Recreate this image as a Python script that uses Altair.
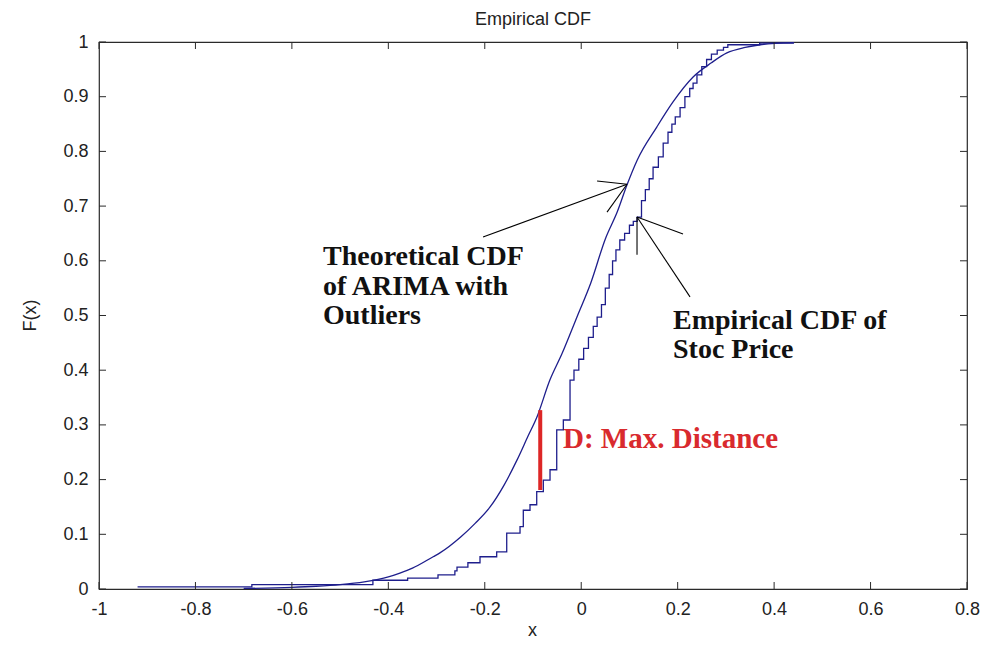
import altair as alt
import pandas as pd

# ---- data ----
theo_x = [-0.70, -0.60, -0.55, -0.50, -0.45, -0.40, -0.376, -0.35, -0.307, -0.293, -0.25, -0.22,
          -0.189, -0.16, -0.133, -0.11, -0.092, -0.065, -0.04, -0.009, 0.02, 0.05, 0.075, 0.095,
          0.116, 0.157, 0.19, 0.232, 0.27, 0.302, 0.34, 0.371, 0.44]
theo_f = [0.001, 0.003, 0.005, 0.008, 0.013, 0.022, 0.029, 0.038, 0.059, 0.066, 0.095, 0.12,
          0.15, 0.19, 0.236, 0.28, 0.314, 0.382, 0.43, 0.497, 0.56, 0.64, 0.69, 0.739,
          0.784, 0.845, 0.89, 0.936, 0.962, 0.98, 0.99, 0.995, 0.999]

emp_x = [-0.92, -0.683, -0.432, -0.36, -0.297, -0.262, -0.2576, -0.235, -0.2099, -0.1753,
         -0.1545, -0.1269, -0.1201, -0.1062, -0.0923, -0.0786, -0.0647, -0.0508, -0.0371, -0.0232,
         -0.015, -0.005, 0.005, 0.015, 0.025, 0.033, 0.042, 0.05, 0.058, 0.065, 0.072, 0.08,
         0.09, 0.10, 0.108, 0.116, 0.125, 0.133, 0.141, 0.149, 0.16, 0.17, 0.18, 0.188, 0.195,
         0.205, 0.215, 0.225, 0.232, 0.24, 0.25, 0.26, 0.27, 0.282, 0.295, 0.304, 0.37, 0.44]
emp_f = [0.004, 0.008, 0.016, 0.02, 0.026, 0.033, 0.040, 0.048, 0.059, 0.068,
         0.102, 0.114, 0.144, 0.154, 0.178, 0.199, 0.218, 0.291, 0.309, 0.382,
         0.40, 0.42, 0.44, 0.46, 0.48, 0.497, 0.52, 0.55, 0.575, 0.60, 0.62, 0.638,
         0.65, 0.665, 0.672, 0.68, 0.71, 0.73, 0.75, 0.771, 0.79, 0.815, 0.835, 0.85, 0.863,
         0.88, 0.90, 0.915, 0.925, 0.94, 0.955, 0.968, 0.978, 0.985, 0.99, 0.995, 0.998, 1.0]

dist_x = [-0.085]
dist_lo = [0.181]
dist_hi = [0.327]

# arrow segments (start -> end) in data units
arrow_x1 = [-0.2036, 0.095, 0.095, 0.2256, 0.1157, 0.1157]
arrow_y1 = [0.6435, 0.740, 0.740, 0.534, 0.680, 0.680]
arrow_x2 = [0.095, 0.0328, 0.0535, 0.1157, 0.1157, 0.2111]
arrow_y2 = [0.740, 0.746, 0.689, 0.680, 0.611, 0.649]

note_text = ["Theoretical CDF", "of ARIMA with", "Outliers", "Empirical CDF of", "Stoc Price"]
note_x = [-0.5355, -0.5355, -0.5355, 0.1904, 0.1904]
note_y = [0.5923, 0.5375, 0.4845, 0.4753, 0.4223]

red_text = ["D: Max. Distance"]
red_x = [-0.0378]
red_y = [0.2578]

title_text = ["Empirical CDF"]

x_ticks = [-1, -0.8, -0.6, -0.4, -0.2, 0, 0.2, 0.4, 0.6, 0.8]
y_ticks = [0, 0.1, 0.2, 0.3, 0.4, 0.5, 0.6, 0.7, 0.8, 0.9, 1]

W, H = 868, 547
LINE = "#1e1e8c"
TICK = 7

xs = alt.Scale(domain=[-1, 0.8], nice=False, zero=False)
ys = alt.Scale(domain=[0, 1], nice=False, zero=False)

label_expr = "replace(format(datum.value, '~g'), '\u2212', '-')"

x_axis = alt.Axis(values=x_ticks, title="x", labelExpr=label_expr, grid=False, domain=False,
                  ticks=False, labelPadding=11, labelFontSize=18, labelFont="Liberation Sans",
                  labelColor="#222222", titleFont="Liberation Sans", titleFontSize=18,
                  titleFontWeight="normal", titleColor="#222222", titleX=433, titleY=41,
                  titleBaseline="middle", titleAlign="center", labelFlush=False)
y_axis = alt.Axis(values=y_ticks, title="F(x)", labelExpr=label_expr, grid=False, domain=False,
                  ticks=False, labelPadding=11, labelFontSize=18, labelFont="Liberation Sans",
                  labelColor="#222222", titleFont="Liberation Sans", titleFontSize=18,
                  titleFontWeight="normal", titleColor="#222222", titleX=-69, titleY=273,
                  titleAngle=270, titleBaseline="middle", titleAlign="center", labelFlush=False)


def X(field):
    return alt.X(field, type="quantitative", scale=xs, axis=x_axis)


def Y(field):
    return alt.Y(field, type="quantitative", scale=ys, axis=y_axis)


theo_df = pd.DataFrame({"x": theo_x, "F": theo_f})
emp_df = pd.DataFrame({"x": emp_x, "F": emp_f})

theo = alt.Chart(theo_df).mark_line(color=LINE, strokeWidth=1.3, interpolate="monotone").encode(
    x=X("x"), y=Y("F"))
emp = alt.Chart(emp_df).mark_line(color=LINE, strokeWidth=1.3, interpolate="step-after").encode(
    x=X("x"), y=Y("F"))

dist = alt.Chart(pd.DataFrame({"x": dist_x, "lo": dist_lo, "hi": dist_hi})).mark_rule(
    color="#dd2626", strokeWidth=4).encode(x=X("x"), y=Y("lo"), y2="hi:Q")

arrows = alt.Chart(pd.DataFrame({"x1": arrow_x1, "y1": arrow_y1, "x2": arrow_x2, "y2": arrow_y2})).mark_rule(
    color="black", strokeWidth=1.1).encode(x=X("x1"), y=Y("y1"), x2="x2:Q", y2="y2:Q")

xt_df = pd.DataFrame({"t": x_ticks})
yt_df = pd.DataFrame({"t": y_ticks})
tick_style = dict(color="#2a2a2a", strokeWidth=1)
tb = alt.Chart(xt_df).mark_rule(**tick_style).encode(
    x=X("t"), y=alt.value(H), y2=alt.value(H - TICK))
tt = alt.Chart(xt_df).mark_rule(**tick_style).encode(
    x=X("t"), y=alt.value(0), y2=alt.value(TICK))
tl = alt.Chart(yt_df).mark_rule(**tick_style).encode(
    y=Y("t"), x=alt.value(0), x2=alt.value(TICK))
tr = alt.Chart(yt_df).mark_rule(**tick_style).encode(
    y=Y("t"), x=alt.value(W), x2=alt.value(W - TICK))

notes = alt.Chart(pd.DataFrame({"x": note_x, "y": note_y, "label": note_text})).mark_text(
    align="left", baseline="alphabetic", font="Liberation Serif", fontWeight="bold",
    fontSize=28, color="#111111").encode(x=X("x"), y=Y("y"), text="label:N")
red_note = alt.Chart(pd.DataFrame({"x": red_x, "y": red_y, "label": red_text})).mark_text(
    align="left", baseline="alphabetic", font="Liberation Serif", fontWeight="bold",
    fontSize=29, color="#d92a2e").encode(x=X("x"), y=Y("y"), text="label:N")

title = alt.Chart(pd.DataFrame({"label": title_text})).mark_text(
    align="center", baseline="alphabetic", font="Liberation Sans", fontSize=18,
    color="#222222").encode(x=alt.value(W / 2), y=alt.value(-17), text="label:N")

chart = alt.layer(theo, emp, dist, arrows, tb, tt, tl, tr, notes, red_note, title).properties(
    width=W, height=H,
    autosize=alt.AutoSizeParams(type="none"),
    padding={"left": 91, "top": 34, "right": 13, "bottom": 54},
    background="white",
).configure_view(stroke="#2a2a2a", strokeWidth=1.2)

chart.save("out.html", embed_options={"renderer": "svg", "actions": False})
